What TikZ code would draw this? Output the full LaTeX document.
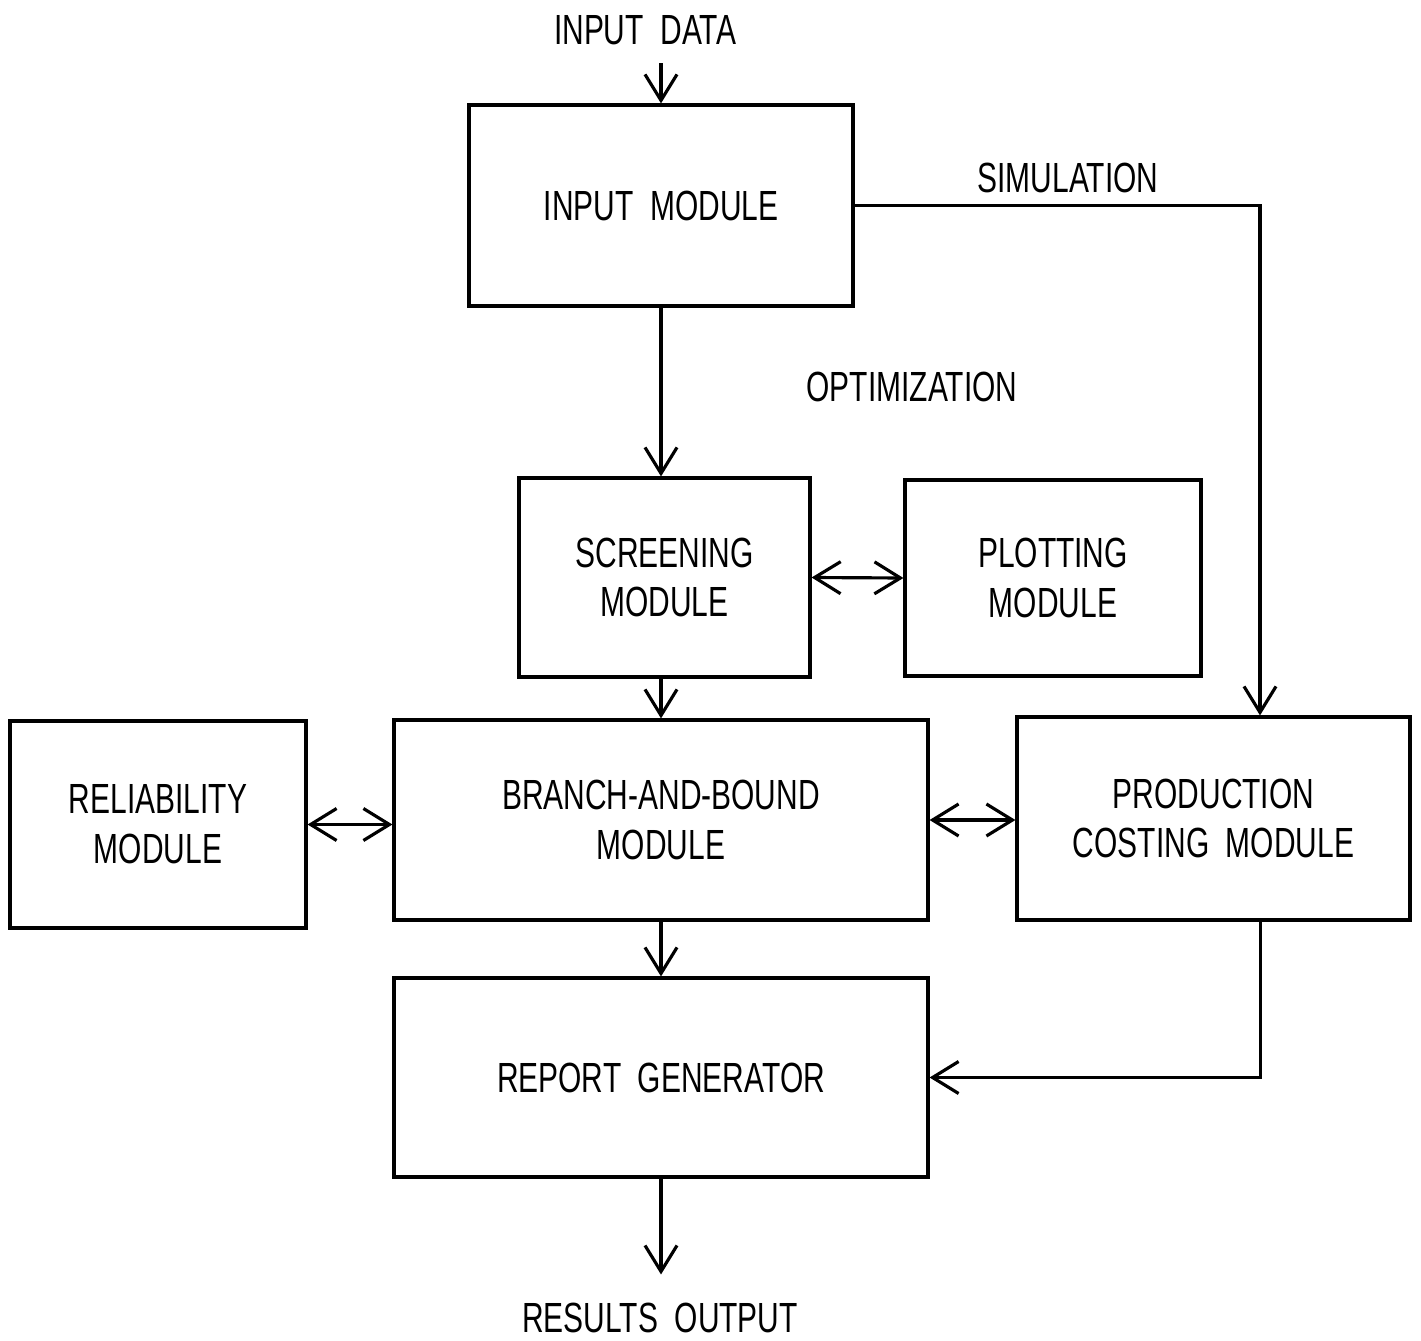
\documentclass[tikz,border=0pt]{standalone}
\usepackage{fontspec}
\setmainfont{Liberation Sans}[FakeStretch=0.71, WordSpace=2]
\usetikzlibrary{arrows.meta}
\begin{document}
\begin{tikzpicture}[
		line width=0.9pt,
		>={Straight Barb[length=2.6mm, width=3.2mm, line width=0.9pt]},
		module/.style={draw, align=center, inner sep=0pt, font=\fontsize{12}{14.2}\selectfont},
		label/.style={inner sep=2pt, font=\fontsize{12}{14.2}\selectfont}
	]
		\useasboundingbox (0, 0) rectangle (14.21, -13.40);
		\node[module, minimum width=3.84cm, minimum height=2.01cm] (inmod) at (6.61, -2.055) {INPUT MODULE};
		\node[module, minimum width=2.91cm, minimum height=1.99cm] (screen) at (6.645, -5.775) {SCREENING\\MODULE};
		\node[module, minimum width=2.96cm, minimum height=1.96cm] (plot) at (10.53, -5.78) {PLOTTING\\MODULE};
		\node[module, minimum width=2.96cm, minimum height=2.07cm] (relia) at (1.58, -8.245) {RELIABILITY\\MODULE};
		\node[module, minimum width=5.34cm, minimum height=2.00cm] (bnb) at (6.61, -8.20) {BRANCH-AND-BOUND\\MODULE};
		\node[module, minimum width=3.93cm, minimum height=2.03cm] (prodc) at (12.135, -8.185) {PRODUCTION\\COSTING MODULE};
		\node[module, minimum width=5.34cm, minimum height=1.99cm] (report) at (6.61, -10.775) {REPORT GENERATOR};
		\node[label] (indata) at (6.45, -0.30) {INPUT DATA};
		\node[label] (simul) at (10.68, -1.78) {SIMULATION};
		\node[label] (optim) at (9.12, -3.87) {OPTIMIZATION};
		\node[label] (results) at (6.60, -13.18) {RESULTS OUTPUT};
		\draw[->] ([yshift=-1mm]inmod.north |- indata.south) -- (inmod.north);
		\draw[->] (inmod.south) -- (inmod.south |- screen.north);
		\draw[->] (inmod.east) -| ([xshift=4.65mm]prodc.north);
		\draw[<->] (screen.east) -- (plot.west);
		\draw[->] (screen.south -| bnb.north) -- (bnb.north);
		\draw[<->] (relia.east) -- (relia.east -| bnb.west);
		\draw[<->] (bnb.east) -- (bnb.east -| prodc.west);
		\draw[->] (bnb.south) -- (report.north);
		\draw[->] ([xshift=4.7mm]prodc.south) |- (report.east);
		\draw[->] (report.south) -- ([yshift=2mm]report.south |- results.north);
	\end{tikzpicture}
\end{document}
